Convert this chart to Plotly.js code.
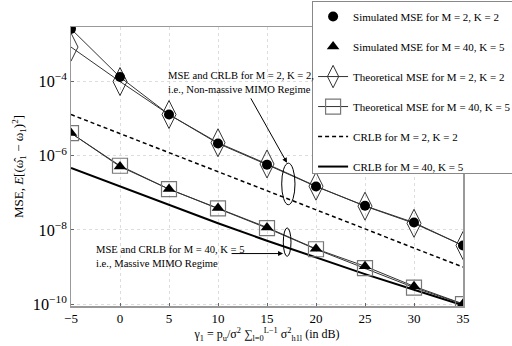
<!DOCTYPE html>
<html>
<head>
<meta charset="utf-8">
<script src="https://cdn.plot.ly/plotly-3.0.1.min.js"></script>
<style>
  html, body { margin: 0; padding: 0; background: #fff; }
  #graph { width: 512px; height: 346px; }
</style>
</head>
<body>
<div id="graph"></div>
<script>
// SNR axis (dB)
const snr = [-5, 0, 5, 10, 15, 20, 25, 30, 35];

// MSE readings
const simM2 = [2.63e-3, 1.32e-4, 1.29e-5, 2.14e-6, 5.75e-7, 1.48e-7, 4.47e-8, 1.58e-8, 3.8e-9];
const theoM2 = [8.5e-4, 1.0e-4, 1.29e-5, 2.24e-6, 6.0e-7, 1.51e-7, 4.37e-8, 1.51e-8, 3.8e-9];
const simM40 = [4.07e-6, 5.13e-7, 1.26e-7, 3.89e-8, 1.17e-8, 3.09e-9, 1.05e-9, 3.02e-10, 1.02e-10];
const theoM40 = [4.07e-6, 5.37e-7, 1.26e-7, 3.8e-8, 1.12e-8, 3.02e-9, 9.3e-10, 2.8e-10, 1.0e-10];
const crlbM2 = [1.29e-5, 3.98e-6, 1.2e-6, 3.72e-7, 1.12e-7, 3.47e-8, 1.07e-8, 3.24e-9, 1.0e-9];
const crlbM40 = [4.68e-7, 1.48e-7, 4.68e-8, 1.51e-8, 5.13e-9, 1.78e-9, 6.46e-10, 2.45e-10, 9.3e-11];

const serif = 'Liberation Serif';
const thin = { color: '#333', width: 1 };

const traces = [
    // connecting lines for the simulated points (kept out of the legend)
    { x: snr, y: simM2, mode: 'lines', line: thin, showlegend: false, hoverinfo: 'skip', legendgroup: 'g0' },
    { x: snr, y: simM40, mode: 'lines', line: thin, showlegend: false, hoverinfo: 'skip', legendgroup: 'g0' },
    {
        x: snr, y: crlbM2, mode: 'lines', name: 'CRLB for M = 2, K = 2',
        line: { color: '#000', width: 1.5, dash: '4px,3px' }, legendrank: 5, legendgroup: 'g5',
    },
    {
        x: snr, y: crlbM40, mode: 'lines', name: 'CRLB for M = 40, K = 5',
        line: { color: '#000', width: 2 }, legendrank: 6, legendgroup: 'g6',
    },
    {
        x: snr, y: theoM2, mode: 'lines+markers', name: 'Theoretical MSE for M = 2, K = 2',
        line: thin, legendrank: 3, legendgroup: 'g3',
        marker: { symbol: 'diamond-tall-open', size: 20, color: '#333', line: { width: 1 } },
    },
    {
        x: snr, y: theoM40, mode: 'lines+markers', name: 'Theoretical MSE for M = 40, K = 5',
        line: thin, legendrank: 4, legendgroup: 'g4',
        marker: { symbol: 'square-open', size: 15, color: '#777', line: { width: 1.2 } },
    },
    {
        x: snr, y: simM2, mode: 'markers', name: 'Simulated MSE for M = 2, K = 2', legendrank: 1, legendgroup: 'g1',
        marker: { symbol: 'circle', size: 10, color: '#000' },
    },
    {
        x: snr, y: simM40, mode: 'markers', name: 'Simulated MSE for M = 40, K = 5', legendrank: 2, legendgroup: 'g2',
        marker: { symbol: 'triangle-up', size: 11, color: '#000' },
    },
];

const layout = {
    width: 512,
    height: 346,
    margin: { l: 71, r: 49, t: 27, b: 40, autoexpand: false },
    paper_bgcolor: '#fff',
    plot_bgcolor: '#fff',
    font: { family: serif, size: 13, color: '#000' },
    showlegend: true,
    legend: {
        x: 0.615, y: 1.093, xanchor: 'left', yanchor: 'top',
        bgcolor: '#fff', bordercolor: '#888', borderwidth: 1,
        font: { family: serif, size: 11 },
        traceorder: 'grouped', tracegroupgap: 11,
        itemwidth: 30,
    },
    xaxis: {
        range: [-5, 35],
        tickvals: [-5, 0, 5, 10, 15, 20, 25, 30, 35],
        ticks: 'inside', ticklen: 3, tickcolor: '#666',
        showline: true, mirror: true, linecolor: '#999', linewidth: 1.5,
        showgrid: true, gridcolor: '#ddd', griddash: 'dot',
        zeroline: false,
        title: {
            text: 'γ<sub>1</sub> = p<sub>u</sub>/σ<sup>2</sup> ∑<sub>l=0</sub><sup>L−1</sup> σ<sup>2</sup><sub>h1l</sub> (in dB)',
            font: { family: serif, size: 12 }, standoff: 4,
        },
    },
    yaxis: {
        type: 'log',
        range: [-10.05, -2.53],
        dtick: 2, tick0: 0,
        exponentformat: 'power',
        ticks: 'inside', ticklen: 3, tickcolor: '#666',
        showline: true, mirror: true, linecolor: '#999', linewidth: 1.5,
        showgrid: true, gridcolor: '#ddd', griddash: 'dot',
        zeroline: false,
        title: {
            text: 'MSE, <i>E</i>[(ω̂<sub>1</sub> − ω<sub>1</sub>)<sup>2</sup>]',
            font: { family: serif, size: 13 }, standoff: 6,
        },
    },
    shapes: [
        { type: 'circle', xref: 'paper', yref: 'paper', x0: 0.5375, x1: 0.5714, y0: 0.363, y1: 0.512,
          line: { color: '#000', width: 1 } },
        { type: 'circle', xref: 'paper', yref: 'paper', x0: 0.5416, x1: 0.5612, y0: 0.178, y1: 0.280,
          line: { color: '#000', width: 1 } },
    ],
    annotations: [
        { xref: 'paper', yref: 'paper', x: 0.2416, y: 0.801, xanchor: 'left', yanchor: 'middle', align: 'left',
          showarrow: false, font: { family: serif, size: 10.6 },
          text: 'MSE and CRLB for M = 2, K = 2,<br>i.e., Non-massive MIMO Regime' },
        { xref: 'paper', yref: 'paper', x: 0.0594, y: 0.177, xanchor: 'left', yanchor: 'middle', align: 'left',
          showarrow: false, font: { family: serif, size: 10.6 },
          text: 'MSE and CRLB for M = 40, K = 5<br>i.e., Massive MIMO Regime' },
        { xref: 'paper', yref: 'paper', x: 0.551, y: 0.513, text: '', showarrow: true,
          ax: -37, ay: -66, arrowhead: 2, arrowsize: 1, arrowwidth: 1, arrowcolor: '#000' },
        { xref: 'paper', yref: 'paper', x: 0.541, y: 0.188, text: '', showarrow: true,
          ax: -53, ay: 0, arrowhead: 2, arrowsize: 1, arrowwidth: 1, arrowcolor: '#000' },
    ],
};

Plotly.newPlot('graph', traces, layout, { staticPlot: true }).catch((error) => {
    console.error('Error plotting the graph:', error);
});
</script>
</body>
</html>
